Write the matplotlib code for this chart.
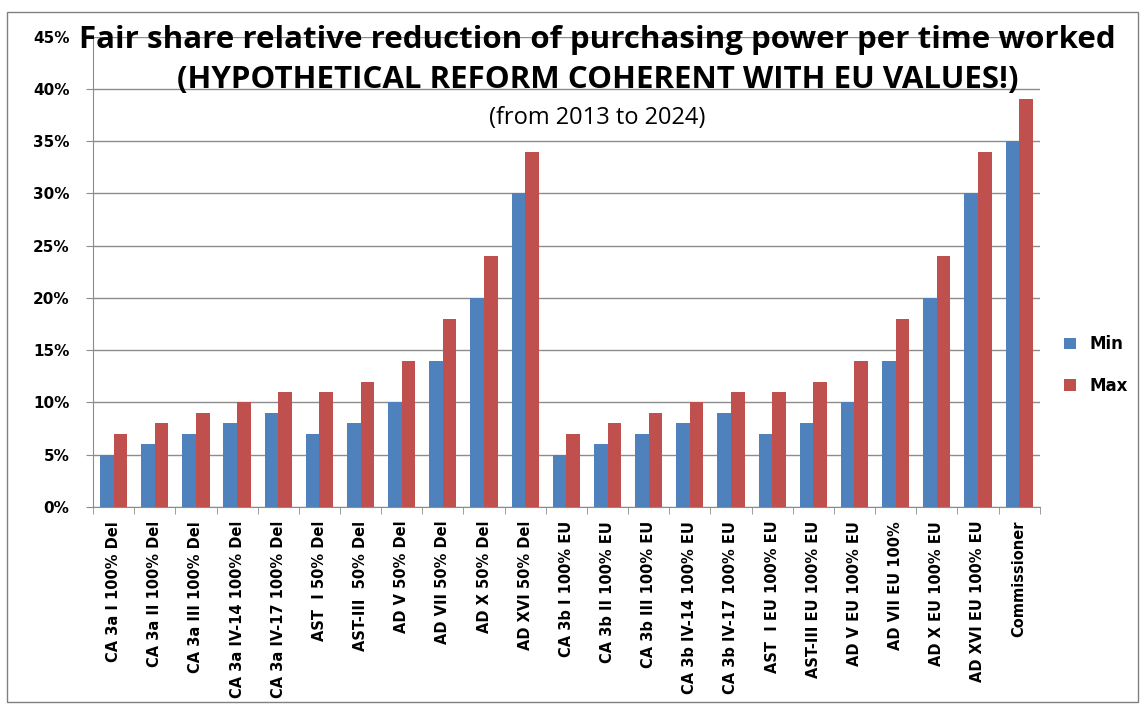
import matplotlib.pyplot as plt
import numpy as np
from matplotlib.patches import Rectangle
from matplotlib.ticker import MultipleLocator, PercentFormatter

categories = [
    "CA 3a I 100% Del", "CA 3a II 100% Del", "CA 3a III 100% Del",
    "CA 3a IV-14 100% Del", "CA 3a IV-17 100% Del", "AST  I 50% Del",
    "AST-III  50% Del", "AD V 50% Del", "AD VII 50% Del", "AD X 50% Del",
    "AD XVI 50% Del",
    "CA 3b I 100% EU", "CA 3b II 100% EU", "CA 3b III 100% EU",
    "CA 3b IV-14 100% EU", "CA 3b IV-17 100% EU", "AST  I EU 100% EU",
    "AST-III EU 100% EU", "AD V EU 100% EU", "AD VII EU 100%",
    "AD X EU 100% EU", "AD XVI EU 100% EU", "Commissioner",
]
min_vals = [5, 6, 7, 8, 9, 7, 8, 10, 14, 20, 30,
            5, 6, 7, 8, 9, 7, 8, 10, 14, 20, 30, 35]
max_vals = [7, 8, 9, 10, 11, 11, 12, 14, 18, 24, 34,
            7, 8, 9, 10, 11, 11, 12, 14, 18, 24, 34, 39]

blue = "#4F81BD"
red = "#C0504D"

fig = plt.figure(figsize=(11.4, 7.07), dpi=100)
ax = fig.add_axes([0.0816, 0.283, 0.8304, 0.665])

x = np.arange(len(categories))
w = 0.33
ax.bar(x - w / 2, min_vals, w, color=blue, label="Min", zorder=3)
ax.bar(x + w / 2, max_vals, w, color=red, label="Max", zorder=3)

ax.set_xlim(-0.5, len(categories) - 0.5)
ax.set_ylim(0, 45)
ax.yaxis.set_major_locator(MultipleLocator(5))
ax.yaxis.set_major_formatter(PercentFormatter(decimals=0))
ax.grid(axis="y", color="#8c8c8c", linewidth=1, zorder=0)

ax.set_xticks(x)
ax.set_xticklabels(categories, rotation=90, fontsize=10.5, fontweight="bold",
                   family="DejaVu Sans")
ax.set_xticks(np.arange(len(categories) + 1) - 0.5, minor=True)
ax.tick_params(axis="x", which="major", length=0, pad=10)
ax.tick_params(axis="x", which="minor", length=5, color="#8c8c8c")
ax.tick_params(axis="y", length=5, color="#8c8c8c", pad=12)
for lbl in ax.get_yticklabels():
    lbl.set_fontweight("bold")
    lbl.set_fontsize(11)
for s in ["top", "right"]:
    ax.spines[s].set_visible(False)
for s in ["left", "bottom"]:
    ax.spines[s].set_color("#8c8c8c")

fig.text(0.524, 0.943, "Fair share relative reduction of purchasing power per time worked",
         ha="center", va="center", fontsize=22.5, fontweight="bold", family="Open Sans")
fig.text(0.524, 0.887, "(HYPOTHETICAL REFORM COHERENT WITH EU VALUES!)",
         ha="center", va="center", fontsize=22.5, fontweight="bold", family="Open Sans")
fig.text(0.524, 0.833, "(from 2013 to 2024)",
         ha="center", va="center", fontsize=17, family="Open Sans")

ax.legend(loc="center left", bbox_to_anchor=(1.01, 0.302), frameon=False,
          handlelength=0.7, handleheight=0.7, labelspacing=1.4, handletextpad=0.8,
          prop={"weight": "bold", "size": 12})

fig.patches.append(Rectangle((0.006, 0.007), 0.992, 0.976, transform=fig.transFigure,
                             fill=False, edgecolor="#808080", linewidth=1))

fig.savefig("out.png", dpi=100)
